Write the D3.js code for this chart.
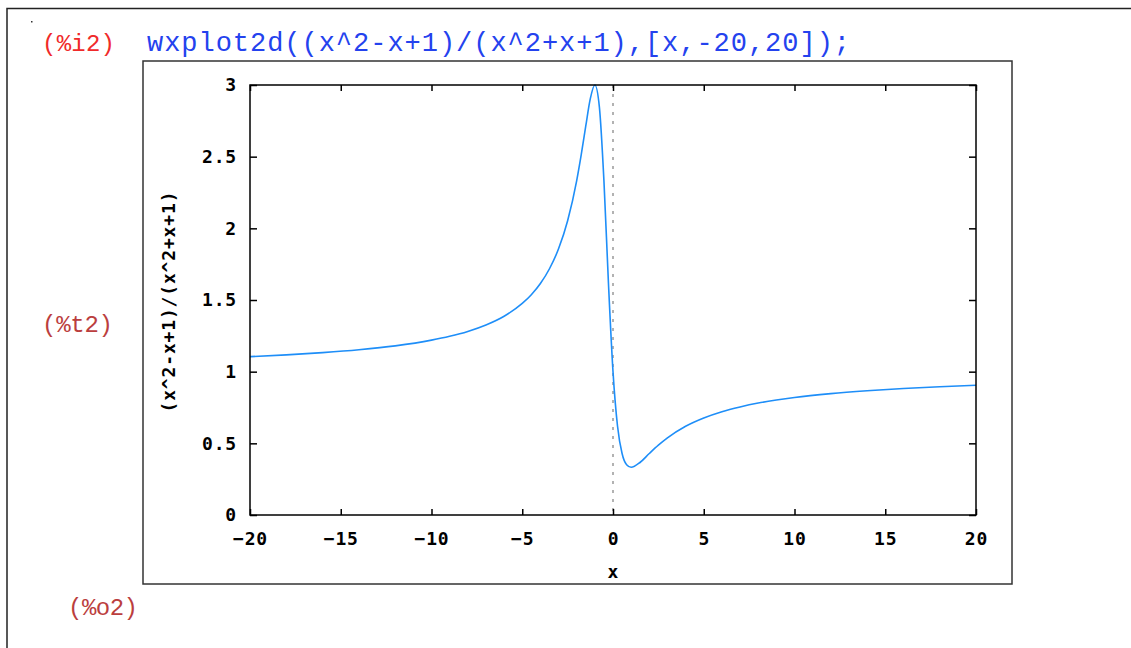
<!DOCTYPE html>
<html>
<head>
<meta charset="utf-8">
<script src="https://cdn.jsdelivr.net/npm/d3@7"></script>
<style>
  html, body { margin: 0; padding: 0; background: #fff; }
  svg { display: block; }
</style>
</head>
<body>
<svg id="chart" width="1131" height="648"></svg>
<script>
const xValues = [-20, -18, -16, -14, -12, -10, -9, -8, -7, -6, -5, -4.5, -4, -3.5, -3, -2.5, -2, -1.75, -1.5, -1.25, -1,
  -0.75, -0.5, -0.25, 0, 0.25, 0.5, 0.75, 1, 1.5, 2, 2.5, 3, 4, 5, 6, 7, 8, 9, 10, 12, 14, 16, 18, 20];
const yValues = [1.105, 1.117, 1.133, 1.153, 1.180, 1.220, 1.247, 1.281, 1.326, 1.387, 1.476, 1.537, 1.615, 1.718, 1.857,
  2.053, 2.333, 2.514, 2.714, 2.905, 3.0, 2.846, 2.333, 1.615, 1.0, 0.619, 0.429, 0.351, 0.333, 0.368, 0.429, 0.487,
  0.538, 0.619, 0.677, 0.721, 0.754, 0.781, 0.802, 0.820, 0.847, 0.867, 0.883, 0.895, 0.905];

const xTicks = [-20, -15, -10, -5, 0, 5, 10, 15, 20];
const yTicks = [0, 0.5, 1, 1.5, 2, 2.5, 3];

const inputLabel = '(%i2)';
const inputText = 'wxplot2d((x^2-x+1)/(x^2+x+1),[x,-20,20]);';
const yLabel = '(x^2-x+1)/(x^2+x+1)';
const xLabel = 'x';

const svg = d3.select('#chart');

const plot = { left: 250, top: 85, right: 976, bottom: 515 };
const tickFont = '"DejaVu Sans Mono", monospace';
const codeFont = '"Liberation Mono", "Courier New", monospace';

// notebook cell border
svg.append('path')
  .attr('d', 'M7,648 V8.5 H1131')
  .attr('fill', 'none')
  .attr('stroke', '#222')
  .attr('stroke-width', 1.5);

svg.append('rect')
  .attr('x', 31).attr('y', 21).attr('width', 1.5).attr('height', 1.5)
  .attr('fill', '#333');

// prompt and input line
function codeText(tx, ty, size, colour, len, str) {
  svg.append('text')
    .attr('x', tx).attr('y', ty)
    .attr('font-family', codeFont)
    .attr('font-size', size)
    .attr('fill', colour)
    .attr('textLength', len)
    .attr('lengthAdjust', 'spacing')
    .text(str);
}
codeText(42, 51, 24, '#f02a2a', 73, inputLabel);
codeText(147, 51, 27, '#2442ee', 703, inputText);
codeText(42, 332, 24, '#bb3e3e', 71, '(%t2)');
codeText(68, 615, 24, '#bb3e3e', 70, '(%o2)');

// image frame
svg.append('rect')
  .attr('x', 143).attr('y', 61)
  .attr('width', 1012 - 143).attr('height', 584 - 61)
  .attr('fill', '#fff')
  .attr('stroke', '#333')
  .attr('stroke-width', 1.5);

const x = d3.scaleLinear().domain([-20, 20]).range([plot.left, plot.right]);
const y = d3.scaleLinear().domain([0, 3]).range([plot.bottom, plot.top]);

// zero axis
svg.append('line')
  .attr('x1', x(0)).attr('x2', x(0))
  .attr('y1', plot.top).attr('y2', plot.bottom)
  .attr('stroke', '#999')
  .attr('stroke-width', 1.5)
  .attr('stroke-dasharray', '3,6');

const xAxis = svg.append('g')
  .attr('transform', `translate(0,${plot.bottom})`)
  .call(d3.axisBottom(x).tickValues(xTicks).tickSize(-6).tickPadding(17).tickFormat(d3.format('d')));

svg.append('g')
  .attr('transform', `translate(0,${plot.top})`)
  .call(d3.axisTop(x).tickValues(xTicks).tickSize(-6).tickFormat(''));

const yAxis = svg.append('g')
  .attr('transform', `translate(${plot.left},0)`)
  .call(d3.axisLeft(y).tickValues(yTicks).tickSize(-7).tickPadding(13).tickFormat(d => String(d)));

svg.append('g')
  .attr('transform', `translate(${plot.right},0)`)
  .call(d3.axisRight(y).tickValues(yTicks).tickSize(-7).tickFormat(''));

svg.selectAll('.domain').remove();
svg.selectAll('.tick line').attr('stroke', '#000').attr('stroke-width', 1.5);

[xAxis, yAxis].forEach(g => g.selectAll('text')
  .attr('font-family', tickFont)
  .attr('font-weight', 'bold')
  .attr('font-size', 18)
  .attr('letter-spacing', 0.8)
  .attr('fill', '#000'));

const line = d3.line()
  .x((d, i) => x(xValues[i]))
  .y(d => y(d))
  .curve(d3.curveMonotoneX);

svg.append('path')
  .datum(yValues)
  .attr('d', line)
  .attr('fill', 'none')
  .attr('stroke', '#1e8ef8')
  .attr('stroke-width', 1.6);

// plot border
svg.append('rect')
  .attr('x', plot.left).attr('y', plot.top)
  .attr('width', plot.right - plot.left).attr('height', plot.bottom - plot.top)
  .attr('fill', 'none')
  .attr('stroke', '#000')
  .attr('stroke-width', 1.5);

svg.append('text')
  .attr('x', x(0)).attr('y', 578)
  .attr('text-anchor', 'middle')
  .attr('font-family', tickFont)
  .attr('font-weight', 'bold')
  .attr('font-size', 18)
  .text(xLabel);

svg.append('text')
  .attr('transform', 'translate(175,302) rotate(-90)')
  .attr('text-anchor', 'middle')
  .attr('font-family', tickFont)
  .attr('font-weight', 'bold')
  .attr('font-size', 18)
  .attr('textLength', 221)
  .attr('lengthAdjust', 'spacing')
  .text(yLabel);
</script>
</body>
</html>
